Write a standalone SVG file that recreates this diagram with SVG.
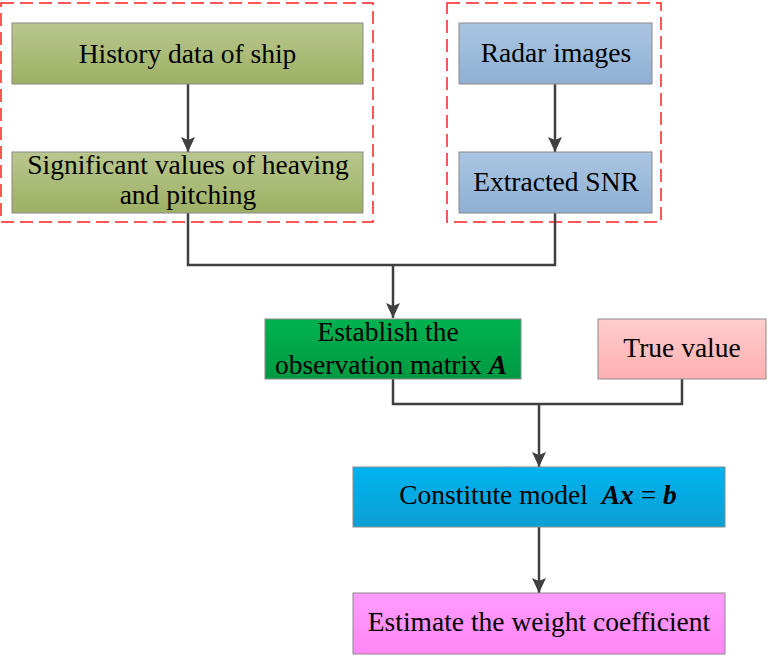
<svg xmlns="http://www.w3.org/2000/svg" width="768" height="656" viewBox="0 0 768 656">
<style>
text{font-family:"Liberation Serif","Times New Roman",serif;font-size:27.5px;fill:#000;text-anchor:middle}
.box{stroke:#8a8a8a;stroke-width:1}
.grp{fill:none;stroke:#ff2020;stroke-width:1.5;stroke-dasharray:13 6}
.con{fill:none;stroke:#404040;stroke-width:2.5}
.arr{marker-end:url(#ah)}
.bi{font-weight:bold;font-style:italic}
</style>
<defs>
<linearGradient id="gOl" x1="0" y1="0" x2="0" y2="1"><stop offset="0" stop-color="#b9c78e"/><stop offset="1" stop-color="#9db064"/></linearGradient>
<linearGradient id="gBl" x1="0" y1="0" x2="0" y2="1"><stop offset="0" stop-color="#aac5e1"/><stop offset="1" stop-color="#8fb0d4"/></linearGradient>
<linearGradient id="gGr" x1="0" y1="0" x2="0" y2="1"><stop offset="0" stop-color="#00b24f"/><stop offset="1" stop-color="#009a43"/></linearGradient>
<linearGradient id="gPk" x1="0" y1="0" x2="0" y2="1"><stop offset="0" stop-color="#ffcccc"/><stop offset="1" stop-color="#ffb0b0"/></linearGradient>
<linearGradient id="gCy" x1="0" y1="0" x2="0" y2="1"><stop offset="0" stop-color="#00b3f0"/><stop offset="1" stop-color="#0d9fd4"/></linearGradient>
<linearGradient id="gMg" x1="0" y1="0" x2="0" y2="1"><stop offset="0" stop-color="#ff9bff"/><stop offset="1" stop-color="#ff88f4"/></linearGradient>
<marker id="ah" markerUnits="userSpaceOnUse" markerWidth="16" markerHeight="16" refX="15" refY="7" orient="auto" viewBox="0 0 16 14">
<path d="M0,0 L15,7 L0,14 L3,7 Z" fill="#404040"/>
</marker>
</defs>

<g id="groups">
<rect class="grp" x="1" y="3" width="372" height="219"/>
<rect class="grp" x="447" y="3" width="214" height="219"/>
</g>

<g id="connectors">
<path class="con arr" d="M188,84 V152"/>
<path class="con arr" d="M555,84 V152"/>
<path class="con" d="M188,213 V265 H555 V213"/>
<path class="con arr" d="M393,265 V318"/>
<path class="con" d="M393,379 V404 H682 V379"/>
<path class="con arr" d="M539,404 V467"/>
<path class="con arr" d="M539,527 V593"/>
</g>

<g id="history">
<rect class="box" x="12" y="23" width="351" height="61" fill="url(#gOl)"/>
<text x="187.5" y="63">History data of ship</text>
</g>
<g id="significant">
<rect class="box" x="12" y="152" width="351" height="61" fill="url(#gOl)"/>
<text x="188" y="174">Significant values of heaving</text>
<text x="188" y="204">and pitching</text>
</g>
<g id="radar">
<rect class="box" x="459" y="23" width="193" height="61" fill="url(#gBl)"/>
<text x="556" y="62">Radar images</text>
</g>
<g id="snr">
<rect class="box" x="459" y="152" width="193" height="61" fill="url(#gBl)"/>
<text x="556" y="191">Extracted SNR</text>
</g>
<g id="establish">
<rect class="box" x="265" y="319" width="256" height="60" fill="url(#gGr)"/>
<text x="388" y="341">Establish the</text>
<text x="391" y="374">observation matrix <tspan class="bi">A</tspan></text>
</g>
<g id="truevalue">
<rect class="box" x="598" y="319" width="168" height="60" fill="url(#gPk)"/>
<text x="682" y="357">True value</text>
</g>
<g id="constitute">
<rect class="box" x="353" y="467" width="372" height="60" fill="url(#gCy)"/>
<text x="538" y="504" xml:space="preserve">Constitute model  <tspan class="bi">Ax</tspan> = <tspan class="bi">b</tspan></text>
</g>
<g id="estimate">
<rect class="box" x="353" y="593" width="372" height="61" fill="url(#gMg)"/>
<text x="539" y="631">Estimate the weight coefficient</text>
</g>
</svg>
